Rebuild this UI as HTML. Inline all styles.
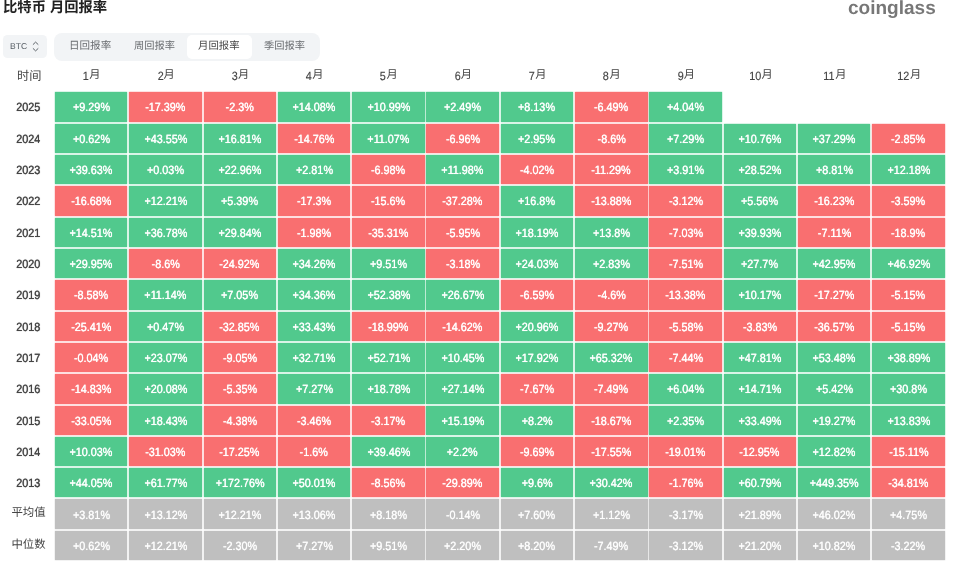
<!DOCTYPE html>
<html lang="zh"><head><meta charset="utf-8"><title>比特币 月回报率</title>
<style>

html,body{margin:0;padding:0;background:#fff}
body{text-rendering:geometricPrecision;will-change:transform;width:972px;height:565px;position:relative;overflow:hidden;font-family:"Liberation Sans",sans-serif;color:#444}
.cj{position:absolute;display:block}
.cj svg,.ci svg{display:block;position:absolute;left:0;top:0;overflow:visible}
.ci{position:relative;display:inline-block;vertical-align:middle}
.t{position:absolute;left:0;top:0;width:100%;height:100%;color:#444;white-space:nowrap;overflow:visible;font-family:"Liberation Sans","Noto Sans CJK SC",sans-serif}
.sel{position:absolute;left:2.8px;top:34.9px;width:44.7px;height:23.5px;background:#f2f4f6;border-radius:4.5px}
.chev{position:absolute;left:30px;top:40px;overflow:visible}
.tabs{position:absolute;left:54.2px;top:32.6px;width:265.6px;height:28.4px;background:#f2f4f6;border-radius:8px}
.tab{position:absolute;top:2.2px;height:23.8px;width:65.4px;border-radius:5px}
.tab.on{background:#fff}
.grid{position:absolute;left:0;top:92.4px;display:grid;grid-template-columns:53.14px repeat(12,72.51px);column-gap:1.8px;grid-auto-rows:29.318px;row-gap:2.0px}
.grid>div{display:flex;align-items:center;justify-content:center;font-size:12px;line-height:29.318px;color:#fff;white-space:nowrap}
.grid>div>span.n{display:inline-block;transform:scaleX(.9);-webkit-text-stroke:.15px currentColor;text-shadow:0 0 .8px currentColor;position:relative;top:1.1px}
.grid>.y{color:#444;padding-left:4px}
.a{color:rgba(255,255,255,.92)!important}
.g{background:#51c98d;box-shadow:0 0 1.2px #51c98d}.r{background:#f96f70;box-shadow:0 0 1.2px #f96f70}.a{background:#bfbfbf;box-shadow:0 0 1.2px #bfbfbf}
.hd{position:absolute;top:65px;height:22px;display:flex;align-items:center;justify-content:center;font-size:12px;color:#444;white-space:nowrap}
.hd .n{display:inline-block;transform:scaleX(.9);transform-origin:100% 50%;-webkit-text-stroke:.15px currentColor;margin-right:.7px;position:relative;left:.3px}

</style></head><body>
<span class="cj title" style="left:3px;top:1px;width:103px;height:15px"><span class="t" style="font-size:14.32px;line-height:15px;color:#222;font-weight:700">比特币 月回报率</span></span>
<span class="cj logo" style="left:848px;top:-2px;width:88px;height:21px"><span class="t" style="font-size:19.04px;line-height:21px;color:#777;font-weight:700">coinglass</span></span>
<div class="sel"></div><svg class="chev" width="12" height="14" viewBox="-5.6 -6.5 12 14"><path d="M-2.4 -2.1L0 -4.4L2.4 -2.1M-2.4 2.1L0 4.4L2.4 2.1" fill="none" stroke="#5d6369" stroke-width="1" stroke-linecap="round" stroke-linejoin="round"/></svg>
<span class="cj " style="left:10px;top:42px;width:18px;height:9px"><span class="t" style="font-size:8.56px;line-height:9px;color:#555c63">BTC</span></span>
<div class="tabs">
<div class="tab" style="left:2.5px"></div>
<div class="tab" style="left:67.5px"></div>
<div class="tab on" style="left:132.4px"></div>
<div class="tab" style="left:197.5px"></div>
</div>
<span class="cj " style="left:69px;top:41px;width:41px;height:11px"><span class="t" style="font-size:10.57px;line-height:11px;color:#696c70">日回报率</span></span>
<span class="cj " style="left:134px;top:41px;width:41px;height:11px"><span class="t" style="font-size:10.24px;line-height:11px;color:#696c70">周回报率</span></span>
<span class="cj " style="left:198px;top:41px;width:42px;height:11px"><span class="t" style="font-size:10.39px;line-height:11px;color:#474747">月回报率</span></span>
<span class="cj " style="left:264px;top:41px;width:41px;height:11px"><span class="t" style="font-size:10.26px;line-height:11px;color:#696c70">季回报率</span></span>
<span class="cj " style="left:17px;top:70px;width:23px;height:12px"><span class="t" style="font-size:12.22px;line-height:12px;color:#444">时间</span></span>
<div class="hd" style="left:54.94px;width:72.51px"><span class="n">1</span><span class="ci" style="width:11.2px;height:11.2px"><span class="t" style="font-size:11.2px;line-height:11.2px">月</span></span></div>
<div class="hd" style="left:129.25px;width:72.51px"><span class="n">2</span><span class="ci" style="width:11.2px;height:11.2px"><span class="t" style="font-size:11.2px;line-height:11.2px">月</span></span></div>
<div class="hd" style="left:203.56px;width:72.51px"><span class="n">3</span><span class="ci" style="width:11.2px;height:11.2px"><span class="t" style="font-size:11.2px;line-height:11.2px">月</span></span></div>
<div class="hd" style="left:277.87px;width:72.51px"><span class="n">4</span><span class="ci" style="width:11.2px;height:11.2px"><span class="t" style="font-size:11.2px;line-height:11.2px">月</span></span></div>
<div class="hd" style="left:352.18px;width:72.51px"><span class="n">5</span><span class="ci" style="width:11.2px;height:11.2px"><span class="t" style="font-size:11.2px;line-height:11.2px">月</span></span></div>
<div class="hd" style="left:426.49px;width:72.51px"><span class="n">6</span><span class="ci" style="width:11.2px;height:11.2px"><span class="t" style="font-size:11.2px;line-height:11.2px">月</span></span></div>
<div class="hd" style="left:500.8px;width:72.51px"><span class="n">7</span><span class="ci" style="width:11.2px;height:11.2px"><span class="t" style="font-size:11.2px;line-height:11.2px">月</span></span></div>
<div class="hd" style="left:575.11px;width:72.51px"><span class="n">8</span><span class="ci" style="width:11.2px;height:11.2px"><span class="t" style="font-size:11.2px;line-height:11.2px">月</span></span></div>
<div class="hd" style="left:649.42px;width:72.51px"><span class="n">9</span><span class="ci" style="width:11.2px;height:11.2px"><span class="t" style="font-size:11.2px;line-height:11.2px">月</span></span></div>
<div class="hd" style="left:723.73px;width:72.51px"><span class="n">10</span><span class="ci" style="width:11.2px;height:11.2px"><span class="t" style="font-size:11.2px;line-height:11.2px">月</span></span></div>
<div class="hd" style="left:798.04px;width:72.51px"><span class="n">11</span><span class="ci" style="width:11.2px;height:11.2px"><span class="t" style="font-size:11.2px;line-height:11.2px">月</span></span></div>
<div class="hd" style="left:872.35px;width:72.51px"><span class="n">12</span><span class="ci" style="width:11.2px;height:11.2px"><span class="t" style="font-size:11.2px;line-height:11.2px">月</span></span></div>
<div class="grid">
<div class="y"><span class="n">2025</span></div>
<div class="g"><span class="n">+9.29%</span></div>
<div class="r"><span class="n">-17.39%</span></div>
<div class="r"><span class="n">-2.3%</span></div>
<div class="g"><span class="n">+14.08%</span></div>
<div class="g"><span class="n">+10.99%</span></div>
<div class="g"><span class="n">+2.49%</span></div>
<div class="g"><span class="n">+8.13%</span></div>
<div class="r"><span class="n">-6.49%</span></div>
<div class="g"><span class="n">+4.04%</span></div>
<div></div>
<div></div>
<div></div>
<div class="y"><span class="n">2024</span></div>
<div class="g"><span class="n">+0.62%</span></div>
<div class="g"><span class="n">+43.55%</span></div>
<div class="g"><span class="n">+16.81%</span></div>
<div class="r"><span class="n">-14.76%</span></div>
<div class="g"><span class="n">+11.07%</span></div>
<div class="r"><span class="n">-6.96%</span></div>
<div class="g"><span class="n">+2.95%</span></div>
<div class="r"><span class="n">-8.6%</span></div>
<div class="g"><span class="n">+7.29%</span></div>
<div class="g"><span class="n">+10.76%</span></div>
<div class="g"><span class="n">+37.29%</span></div>
<div class="r"><span class="n">-2.85%</span></div>
<div class="y"><span class="n">2023</span></div>
<div class="g"><span class="n">+39.63%</span></div>
<div class="g"><span class="n">+0.03%</span></div>
<div class="g"><span class="n">+22.96%</span></div>
<div class="g"><span class="n">+2.81%</span></div>
<div class="r"><span class="n">-6.98%</span></div>
<div class="g"><span class="n">+11.98%</span></div>
<div class="r"><span class="n">-4.02%</span></div>
<div class="r"><span class="n">-11.29%</span></div>
<div class="g"><span class="n">+3.91%</span></div>
<div class="g"><span class="n">+28.52%</span></div>
<div class="g"><span class="n">+8.81%</span></div>
<div class="g"><span class="n">+12.18%</span></div>
<div class="y"><span class="n">2022</span></div>
<div class="r"><span class="n">-16.68%</span></div>
<div class="g"><span class="n">+12.21%</span></div>
<div class="g"><span class="n">+5.39%</span></div>
<div class="r"><span class="n">-17.3%</span></div>
<div class="r"><span class="n">-15.6%</span></div>
<div class="r"><span class="n">-37.28%</span></div>
<div class="g"><span class="n">+16.8%</span></div>
<div class="r"><span class="n">-13.88%</span></div>
<div class="r"><span class="n">-3.12%</span></div>
<div class="g"><span class="n">+5.56%</span></div>
<div class="r"><span class="n">-16.23%</span></div>
<div class="r"><span class="n">-3.59%</span></div>
<div class="y"><span class="n">2021</span></div>
<div class="g"><span class="n">+14.51%</span></div>
<div class="g"><span class="n">+36.78%</span></div>
<div class="g"><span class="n">+29.84%</span></div>
<div class="r"><span class="n">-1.98%</span></div>
<div class="r"><span class="n">-35.31%</span></div>
<div class="r"><span class="n">-5.95%</span></div>
<div class="g"><span class="n">+18.19%</span></div>
<div class="g"><span class="n">+13.8%</span></div>
<div class="r"><span class="n">-7.03%</span></div>
<div class="g"><span class="n">+39.93%</span></div>
<div class="r"><span class="n">-7.11%</span></div>
<div class="r"><span class="n">-18.9%</span></div>
<div class="y"><span class="n">2020</span></div>
<div class="g"><span class="n">+29.95%</span></div>
<div class="r"><span class="n">-8.6%</span></div>
<div class="r"><span class="n">-24.92%</span></div>
<div class="g"><span class="n">+34.26%</span></div>
<div class="g"><span class="n">+9.51%</span></div>
<div class="r"><span class="n">-3.18%</span></div>
<div class="g"><span class="n">+24.03%</span></div>
<div class="g"><span class="n">+2.83%</span></div>
<div class="r"><span class="n">-7.51%</span></div>
<div class="g"><span class="n">+27.7%</span></div>
<div class="g"><span class="n">+42.95%</span></div>
<div class="g"><span class="n">+46.92%</span></div>
<div class="y"><span class="n">2019</span></div>
<div class="r"><span class="n">-8.58%</span></div>
<div class="g"><span class="n">+11.14%</span></div>
<div class="g"><span class="n">+7.05%</span></div>
<div class="g"><span class="n">+34.36%</span></div>
<div class="g"><span class="n">+52.38%</span></div>
<div class="g"><span class="n">+26.67%</span></div>
<div class="r"><span class="n">-6.59%</span></div>
<div class="r"><span class="n">-4.6%</span></div>
<div class="r"><span class="n">-13.38%</span></div>
<div class="g"><span class="n">+10.17%</span></div>
<div class="r"><span class="n">-17.27%</span></div>
<div class="r"><span class="n">-5.15%</span></div>
<div class="y"><span class="n">2018</span></div>
<div class="r"><span class="n">-25.41%</span></div>
<div class="g"><span class="n">+0.47%</span></div>
<div class="r"><span class="n">-32.85%</span></div>
<div class="g"><span class="n">+33.43%</span></div>
<div class="r"><span class="n">-18.99%</span></div>
<div class="r"><span class="n">-14.62%</span></div>
<div class="g"><span class="n">+20.96%</span></div>
<div class="r"><span class="n">-9.27%</span></div>
<div class="r"><span class="n">-5.58%</span></div>
<div class="r"><span class="n">-3.83%</span></div>
<div class="r"><span class="n">-36.57%</span></div>
<div class="r"><span class="n">-5.15%</span></div>
<div class="y"><span class="n">2017</span></div>
<div class="r"><span class="n">-0.04%</span></div>
<div class="g"><span class="n">+23.07%</span></div>
<div class="r"><span class="n">-9.05%</span></div>
<div class="g"><span class="n">+32.71%</span></div>
<div class="g"><span class="n">+52.71%</span></div>
<div class="g"><span class="n">+10.45%</span></div>
<div class="g"><span class="n">+17.92%</span></div>
<div class="g"><span class="n">+65.32%</span></div>
<div class="r"><span class="n">-7.44%</span></div>
<div class="g"><span class="n">+47.81%</span></div>
<div class="g"><span class="n">+53.48%</span></div>
<div class="g"><span class="n">+38.89%</span></div>
<div class="y"><span class="n">2016</span></div>
<div class="r"><span class="n">-14.83%</span></div>
<div class="g"><span class="n">+20.08%</span></div>
<div class="r"><span class="n">-5.35%</span></div>
<div class="g"><span class="n">+7.27%</span></div>
<div class="g"><span class="n">+18.78%</span></div>
<div class="g"><span class="n">+27.14%</span></div>
<div class="r"><span class="n">-7.67%</span></div>
<div class="r"><span class="n">-7.49%</span></div>
<div class="g"><span class="n">+6.04%</span></div>
<div class="g"><span class="n">+14.71%</span></div>
<div class="g"><span class="n">+5.42%</span></div>
<div class="g"><span class="n">+30.8%</span></div>
<div class="y"><span class="n">2015</span></div>
<div class="r"><span class="n">-33.05%</span></div>
<div class="g"><span class="n">+18.43%</span></div>
<div class="r"><span class="n">-4.38%</span></div>
<div class="r"><span class="n">-3.46%</span></div>
<div class="r"><span class="n">-3.17%</span></div>
<div class="g"><span class="n">+15.19%</span></div>
<div class="g"><span class="n">+8.2%</span></div>
<div class="r"><span class="n">-18.67%</span></div>
<div class="g"><span class="n">+2.35%</span></div>
<div class="g"><span class="n">+33.49%</span></div>
<div class="g"><span class="n">+19.27%</span></div>
<div class="g"><span class="n">+13.83%</span></div>
<div class="y"><span class="n">2014</span></div>
<div class="g"><span class="n">+10.03%</span></div>
<div class="r"><span class="n">-31.03%</span></div>
<div class="r"><span class="n">-17.25%</span></div>
<div class="r"><span class="n">-1.6%</span></div>
<div class="g"><span class="n">+39.46%</span></div>
<div class="g"><span class="n">+2.2%</span></div>
<div class="r"><span class="n">-9.69%</span></div>
<div class="r"><span class="n">-17.55%</span></div>
<div class="r"><span class="n">-19.01%</span></div>
<div class="r"><span class="n">-12.95%</span></div>
<div class="g"><span class="n">+12.82%</span></div>
<div class="r"><span class="n">-15.11%</span></div>
<div class="y"><span class="n">2013</span></div>
<div class="g"><span class="n">+44.05%</span></div>
<div class="g"><span class="n">+61.77%</span></div>
<div class="g"><span class="n">+172.76%</span></div>
<div class="g"><span class="n">+50.01%</span></div>
<div class="r"><span class="n">-8.56%</span></div>
<div class="r"><span class="n">-29.89%</span></div>
<div class="g"><span class="n">+9.6%</span></div>
<div class="g"><span class="n">+30.42%</span></div>
<div class="r"><span class="n">-1.76%</span></div>
<div class="g"><span class="n">+60.79%</span></div>
<div class="g"><span class="n">+449.35%</span></div>
<div class="r"><span class="n">-34.81%</span></div>
<div class="y"><span class="ci" style="width:34.2px;height:11.4px"><span class="t" style="font-size:11.4px;line-height:11.4px">平均值</span></span></div>
<div class="a"><span class="n">+3.81%</span></div>
<div class="a"><span class="n">+13.12%</span></div>
<div class="a"><span class="n">+12.21%</span></div>
<div class="a"><span class="n">+13.06%</span></div>
<div class="a"><span class="n">+8.18%</span></div>
<div class="a"><span class="n">-0.14%</span></div>
<div class="a"><span class="n">+7.60%</span></div>
<div class="a"><span class="n">+1.12%</span></div>
<div class="a"><span class="n">-3.17%</span></div>
<div class="a"><span class="n">+21.89%</span></div>
<div class="a"><span class="n">+46.02%</span></div>
<div class="a"><span class="n">+4.75%</span></div>
<div class="y"><span class="ci" style="width:34.2px;height:11.4px"><span class="t" style="font-size:11.4px;line-height:11.4px">中位数</span></span></div>
<div class="a"><span class="n">+0.62%</span></div>
<div class="a"><span class="n">+12.21%</span></div>
<div class="a"><span class="n">-2.30%</span></div>
<div class="a"><span class="n">+7.27%</span></div>
<div class="a"><span class="n">+9.51%</span></div>
<div class="a"><span class="n">+2.20%</span></div>
<div class="a"><span class="n">+8.20%</span></div>
<div class="a"><span class="n">-7.49%</span></div>
<div class="a"><span class="n">-3.12%</span></div>
<div class="a"><span class="n">+21.20%</span></div>
<div class="a"><span class="n">+10.82%</span></div>
<div class="a"><span class="n">-3.22%</span></div>
</div>
</body></html>
